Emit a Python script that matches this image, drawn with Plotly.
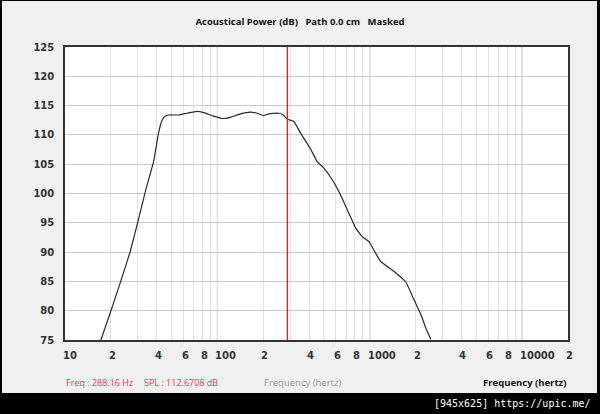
import math

import plotly.graph_objects as go

# frequency response
freq_hz = [17.2, 19.8, 23, 26.8, 30.3, 34.1, 38.1, 41.1, 43.3, 45.5, 47.9, 55.6, 63.1,
           73.5, 81.3, 94.6, 107.4, 121.8, 141.7, 164.8, 182.3, 201.7, 217.6, 253,
           270, 288.16, 317.7, 351.6, 409, 453, 501, 569, 645, 713, 809, 895, 989,
           1094, 1180, 1445, 1726, 1910, 2168, 2336, 2518]
power_db = [75, 79.6, 84.7, 90.1, 95.5, 100.9, 105.4, 110.3, 112.5, 113.2, 113.4,
            113.4, 113.7, 114.0, 113.8, 113.2, 112.8, 113.0, 113.6, 113.9, 113.7,
            113.3, 113.6, 113.7, 113.4, 112.67, 112.3, 110.3, 107.6, 105.4, 104.3,
            102.3, 99.7, 97.2, 94.1, 92.6, 91.8, 89.8, 88.4, 86.7, 84.9, 82.4, 79.3,
            77.0, 75.1]

cursor_hz = 288.16
cursor_spl = 112.6708

decades = [100, 1000, 10000]
grid_hz = [m * d for d in (10, 100, 1000, 10000) for m in range(1, 10)] + [20000]
label_hz = [10, 20, 40, 60, 80, 100, 200, 400, 600, 800, 1000, 2000, 4000, 6000,
            8000, 10000, 20000]
label_txt = ["10", "2", "4", "6", "8", "100", "2", "4", "6", "8", "1000", "2", "4",
             "6", "8", "10000", "2"]
y_ticks = [75, 80, 85, 90, 95, 100, 105, 110, 115, 120, 125]

TICK_FONT = dict(family="DejaVu Sans", size=10, color="#333333", weight="bold")
UI_FONT = "Open Sans, Noto Sans, sans-serif"

# plot area in pixels: x 65..568, y 47..340
PW, PH = 503, 293


def band(x0, x1, y0, y1):
    # pixel box -> paper coords
    return dict(type="rect", xref="paper", yref="paper",
                x0=(x0 - 65) / PW, x1=(x1 - 65) / PW,
                y0=(340 - y1) / PH, y1=(340 - y0) / PH,
                fillcolor="black", line_width=0, layer="above")


fig = go.Figure()
fig.add_trace(go.Scatter(
    x=freq_hz, y=power_db, mode="lines",
    line=dict(color="#2a2a2a", width=1.2, shape="spline", smoothing=0.3),
    hoverinfo="x+y", showlegend=False,
))

sp = "\u00a0" * 3
fig.update_layout(
    width=600, height=414,
    margin=dict(l=65, r=32, t=47, b=74, autoexpand=False),
    paper_bgcolor="#f0f0f0",
    plot_bgcolor="white",
    title=dict(
        text=f"Acoustical Power (dB){sp}Path 0.0 cm{sp}Masked",
        x=0.5, xanchor="center", y=1 - 22 / 414, yanchor="middle",
        font=dict(family=UI_FONT, size=9.5, color="#111111", weight="bold"),
    ),
    xaxis=dict(
        type="log", range=[1, 4.30103], automargin=False,
        tickmode="array", tickvals=label_hz, showticklabels=False,
        ticks="", showgrid=False,
        minor=dict(tickmode="array", tickvals=grid_hz, showgrid=True,
                   gridcolor="#e2e2e2", gridwidth=1, ticks=""),
        showline=True, mirror=True, linecolor="#333333", linewidth=1.5,
        zeroline=False,
    ),
    yaxis=dict(
        range=[75, 125], automargin=False, tickmode="array", tickvals=y_ticks,
        tickfont=TICK_FONT, ticks="", gridcolor="#cacaca", gridwidth=1,
        showline=True, mirror=True, linecolor="#333333", linewidth=1.5,
        ticklabelstandoff=7, zeroline=False,
    ),
    shapes=[
        band(0, 600, 393, 414),
        band(0, 2, 0, 414),
        band(597, 600, 0, 414),
        band(0, 600, 0, 1),
    ],
)

for d in decades:
    fig.add_vline(x=d, line_color="#c0c0c0", line_width=1.2, layer="below")
fig.add_vline(x=cursor_hz, line_color="#ff1010", line_width=1.3)

# x labels: left edge just before each gridline (annotations take log10 on log axes)
for v, t in zip(label_hz, label_txt):
    fig.add_annotation(xref="x", yref="paper", x=math.log10(v), y=-15 / PH,
                       xanchor="left", yanchor="middle", xshift=-4, showarrow=False,
                       text=t, font=TICK_FONT)

y_status = -42 / PH
fig.add_annotation(xref="paper", yref="paper", x=-1 / PW, y=y_status,
                   xanchor="left", yanchor="middle", showarrow=False,
                   text=f"Freq : {cursor_hz:.2f} Hz",
                   font=dict(family=UI_FONT, size=9, color="#e83c4a"))
fig.add_annotation(xref="paper", yref="paper", x=77 / PW, y=y_status,
                   xanchor="left", yanchor="middle", showarrow=False,
                   text=f"SPL : {cursor_spl:.4f} dB",
                   font=dict(family=UI_FONT, size=9, color="#e83c4a"))
fig.add_annotation(xref="paper", yref="paper", x=197 / PW, y=y_status,
                   xanchor="left", yanchor="middle", showarrow=False,
                   text="Frequency (hertz)",
                   font=dict(family=UI_FONT, size=9.5, color="#9a9a9a"))
fig.add_annotation(xref="paper", yref="paper", x=1, y=y_status,
                   xanchor="right", yanchor="middle", showarrow=False,
                   text="Frequency (hertz)",
                   font=dict(family=UI_FONT, size=9.5, color="#111111", weight="bold"))
fig.add_annotation(xref="paper", yref="paper", x=528 / PW, y=-63 / PH,
                   xanchor="right", yanchor="middle", showarrow=False,
                   text="[945x625] https://upic.me/",
                   font=dict(family="DejaVu Sans Mono", size=10, color="white"))

fig.write_html("out.html", config={"displayModeBar": False},
               post_script="document.body.style.margin = '0';")
